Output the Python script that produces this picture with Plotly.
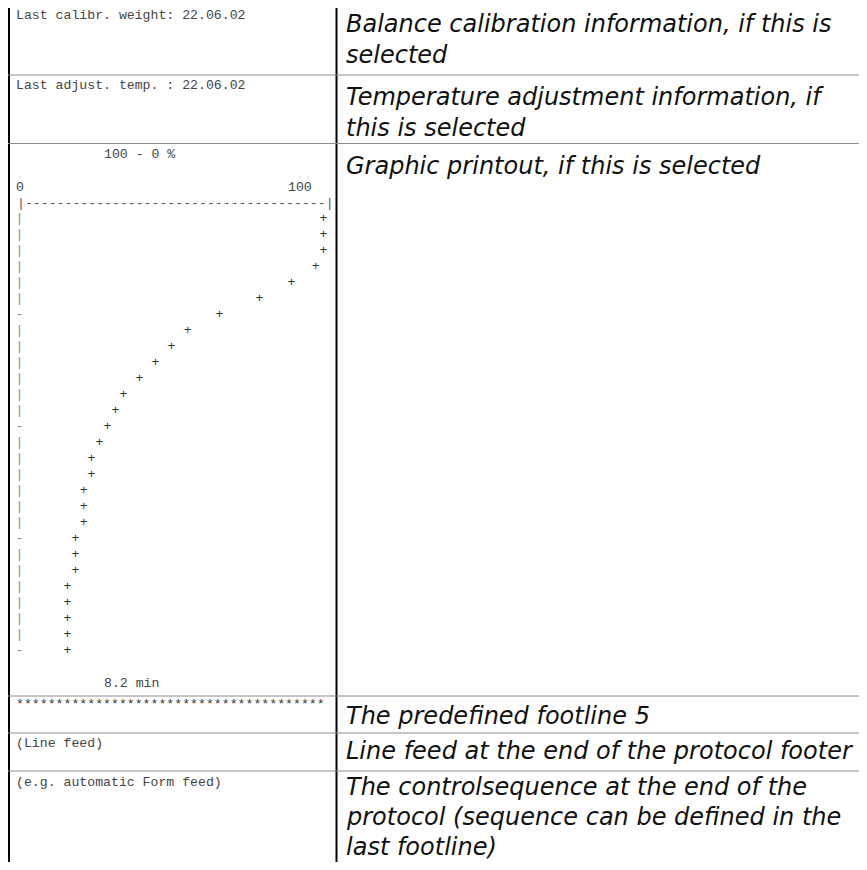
import plotly.graph_objects as go

# ---------------- data ----------------
rows = [1, 2, 3, 4, 5, 6, 7, 8, 9, 10, 11, 12, 13, 14,
        15, 16, 17, 18, 19, 20, 21, 22, 23, 24, 25, 26, 27, 28]
weight_pct = [100, 100, 100, 97.4, 89.5, 78.9, 65.8, 55.3, 50.0, 44.7,
              39.5, 34.2, 31.6, 28.9, 26.3, 23.7, 23.7, 21.1, 21.1, 21.1,
              18.4, 18.4, 18.4, 15.8, 15.8, 15.8, 15.8, 15.8]
scale_labels = ["0", "100"]
graph_title = "100 - 0 %"
time_label = "8.2 min"

left_texts = [
    "Last calibr. weight: 22.06.02",
    "Last adjust. temp. : 22.06.02",
    None,
    "*" * 39,
    "(Line feed)",
    "(e.g. automatic Form feed)",
]
right_texts = [
    ["Balance calibration information, if this is", "selected"],
    ["Temperature adjustment information, if", "this is selected"],
    ["Graphic printout, if this is selected"],
    ["The predefined footline 5"],
    ["Line feed at the end of the protocol footer"],
    ["The controlsequence at the end of the",
     "protocol (sequence can be defined in the", "last footline)"],
]

# ---------------- layout helpers ----------------
# the page body has an 8px margin; figure is sized to avoid scrollbars
OFF = 8
W, H = 851, 854
MONO = "Liberation Mono"
MSIZE = 13.2
CH = 8.0          # character pitch (px)
COL0 = 19.5       # centre of first character column (page px)
ROW0 = 203        # y of graph header row (page px)
ROWH = 16         # row pitch (px)


def px(x):
    return max(0.0, (x - OFF) / W)


def py(y):
    return 1 - (y - OFF) / H


row_tops = [0, 75, 143.5, 696, 733, 771]
left_y = [15, 86, None, 704, 743, 782]
right_first = [24, 97, 166, 716, 751, 787]
right_line = [31, 31, 31, 31, 31, 30]

fig = go.Figure()

# axis column of the printout (| and - every 7th row)
axis_chars = ["-" if r % 7 == 0 else "|" for r in rows]
fig.add_trace(go.Scatter(
    x=[0] * len(rows), y=rows, mode="text", text=axis_chars,
    textposition="middle center", cliponaxis=False,
    textfont=dict(family=MONO, size=MSIZE, color="#8a8a8a"),
    hoverinfo="skip", showlegend=False))

# data points
fig.add_trace(go.Scatter(
    x=weight_pct, y=rows, mode="text", text=["+"] * len(rows),
    textposition="middle center", cliponaxis=False,
    textfont=dict(family=MONO, size=MSIZE, color="#333333"),
    showlegend=False))

ann = []


def mono(text, x, y, anchor="left", color="#444444"):
    ann.append(dict(text=text, x=px(x), y=py(y), xref="paper", yref="paper",
                    xanchor=anchor, yanchor="middle", showarrow=False,
                    borderpad=0, borderwidth=0,
                    font=dict(family=MONO, size=MSIZE, color=color)))


for t, y in zip(left_texts, left_y):
    if t is not None:
        mono(t, 16, y, color="#333333" if t.startswith("*") else "#444444")

# graph header lines
mono(graph_title, COL0 + 11 * CH - 4, 155)
mono(scale_labels[0], COL0, 187, anchor="center")
mono(scale_labels[1], COL0 + 35 * CH, 187, anchor="center")
dash_line = "|" + "-" * 38 + "|"
mono(dash_line, COL0 + 19.5 * CH, ROW0, anchor="center", color="#555555")
mono(time_label, COL0 + 11 * CH - 4, 683)

# right column descriptions
for lines, y0, lh in zip(right_texts, right_first, right_line):
    for i, line in enumerate(lines):
        ann.append(dict(text="<i>" + line + "</i>", x=px(346), y=py(y0 + i * lh),
                        xref="paper", yref="paper", xanchor="left",
                        yanchor="middle", showarrow=False, borderpad=0,
                        borderwidth=0,
                        font=dict(family="DejaVu Sans", size=24,
                                  color="#111111")))

shapes = []
# vertical borders
shapes.append(dict(type="line", xref="paper", yref="paper",
                   x0=1 / W, x1=1 / W, y0=0, y1=1,
                   line=dict(color="#000000", width=2)))
shapes.append(dict(type="line", xref="paper", yref="paper", x0=px(336.5),
                   x1=px(336.5), y0=0, y1=1,
                   line=dict(color="#000000", width=2)))
# horizontal row dividers
for yt in row_tops[1:]:
    shapes.append(dict(type="line", xref="paper", yref="paper", x0=0,
                       x1=1, y0=py(yt), y1=py(yt),
                       line=dict(color="#8c8c8c", width=1)))

fig.update_layout(
    width=W, height=H,
    margin=dict(l=0, r=0, t=0, b=0),
    paper_bgcolor="white", plot_bgcolor="white",
    showlegend=False,
    annotations=ann, shapes=shapes,
    xaxis=dict(domain=[px(COL0), px(COL0 + 38 * CH)], range=[0, 100],
               visible=False, fixedrange=True),
    yaxis=dict(domain=[py(ROW0 + 28.5 * ROWH), py(ROW0 - 0.5 * ROWH)],
               range=[28.5, -0.5], visible=False, fixedrange=True),
)

fig.write_html("out.html")
